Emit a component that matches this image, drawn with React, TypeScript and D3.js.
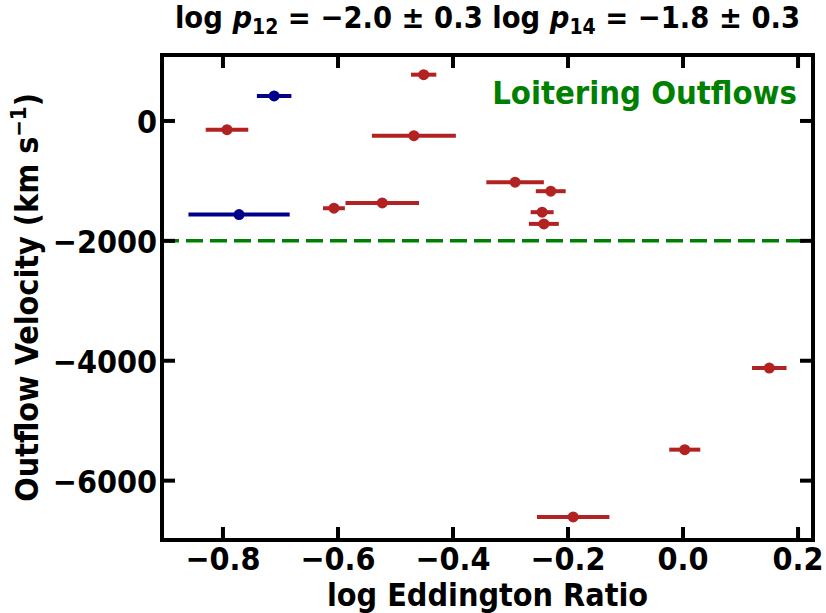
import React from "react";
import * as d3 from "d3";

// log Eddington ratio, its error and outflow velocity for each source
const logEdd = [-0.711, -0.772, -0.793, -0.451, -0.468, -0.607, -0.523, -0.292, -0.23, -0.245, -0.242, 0.15, 0.003, -0.191];
const eddErr = [0.03, 0.088, 0.037, 0.022, 0.073, 0.019, 0.064, 0.05, 0.026, 0.02, 0.026, 0.03, 0.027, 0.063];
const velocity = [417, -1561, -145, 772, -245, -1456, -1367, -1022, -1172, -1522, -1717, -4122, -5483, -6605];
const group = ["blue", "blue", "red", "red", "red", "red", "red", "red", "red", "red", "red", "red", "red", "red"];

const xTicks = [-0.8, -0.6, -0.4, -0.2, 0.0, 0.2];
const yTicks = [0, -2000, -4000, -6000];
const loiterLine = -2000;

const W = 826;
const H = 613;
const margin = { left: 162, right: 13, top: 55, bottom: 73 };

const colors = { red: "#b22222", blue: "#00008b" };
const font = "'DejaVu Sans Condensed', 'DejaVu Sans', sans-serif";

const fmtX = (v: number) => d3.format(".1f")(v).replace("-", "\u2212");
const fmtY = (v: number) => String(v).replace("-", "\u2212");

export default function App() {
  const x = d3.scaleLinear().domain([-0.906, 0.226]).range([margin.left, W - margin.right]);
  const y = d3.scaleLinear().domain([-6990, 1100]).range([H - margin.bottom, margin.top]);
  const [x0, x1] = x.range();
  const [y0, y1] = y.range();
  const tickLen = 13;

  return (
    <svg width={W} height={H} style={{ position: "absolute", left: 0, top: 0, fontStretch: "condensed" }} fontFamily={font} fontWeight="bold">
      <rect width={W} height={H} fill="white" />

      {/* loitering threshold */}
      <line x1={x0} x2={x1} y1={y(loiterLine)} y2={y(loiterLine)} stroke="#008000" strokeWidth={3.5} strokeDasharray="17 7" />

      {/* error bars + points */}
      {logEdd.map((d, i) => (
        <g key={i}>
          <line x1={x(d - eddErr[i])} x2={x(d + eddErr[i])} y1={y(velocity[i])} y2={y(velocity[i])} stroke={colors[group[i]]} strokeWidth={4} />
          <circle cx={x(d)} cy={y(velocity[i])} r={5.5} fill={colors[group[i]]} />
        </g>
      ))}

      {/* ticks on all four sides, pointing in */}
      {xTicks.map((t) => (
        <g key={"x" + t}>
          <line x1={x(t)} x2={x(t)} y1={y0} y2={y0 - tickLen} stroke="black" strokeWidth={4} />
          <line x1={x(t)} x2={x(t)} y1={y1} y2={y1 + tickLen} stroke="black" strokeWidth={4} />
          <text x={x(t)} y={570} textAnchor="middle" fontSize={32}>{fmtX(t)}</text>
        </g>
      ))}
      {yTicks.map((t) => (
        <g key={"y" + t}>
          <line x1={x0} x2={x0 + tickLen} y1={y(t)} y2={y(t)} stroke="black" strokeWidth={4} />
          <line x1={x1} x2={x1 - tickLen} y1={y(t)} y2={y(t)} stroke="black" strokeWidth={4} />
          <text x={x0 - 5} y={y(t) + 12} textAnchor="end" fontSize={32}>{fmtY(t)}</text>
        </g>
      ))}

      <rect x={x0} y={y1} width={x1 - x0} height={y0 - y1} fill="none" stroke="black" strokeWidth={4} />

      <text x={797} y={104} textAnchor="end" fontSize={32.5} fill="#008000">Loitering Outflows</text>

      <text x={(x0 + x1) / 2} y={606} textAnchor="middle" fontSize={32}>log Eddington Ratio</text>
      <text transform={`translate(38, ${(y0 + y1) / 2}) rotate(-90)`} textAnchor="middle" fontSize={32}>
        Outflow Velocity (km s<tspan dy={-12} fontSize={22}>{"\u22121"}</tspan><tspan dy={12}>)</tspan>
      </text>

      <text x={(x0 + x1) / 2} y={28} textAnchor="middle" fontSize={30.5}>
        log <tspan fontStyle="italic">p</tspan><tspan dy={6} fontSize={21}>12</tspan>
        <tspan dy={-6}> = {"\u2212"}2.0 ± 0.3 log </tspan><tspan fontStyle="italic">p</tspan>
        <tspan dy={6} fontSize={21}>14</tspan><tspan dy={-6}> = {"\u2212"}1.8 ± 0.3</tspan>
      </text>
    </svg>
  );
}
